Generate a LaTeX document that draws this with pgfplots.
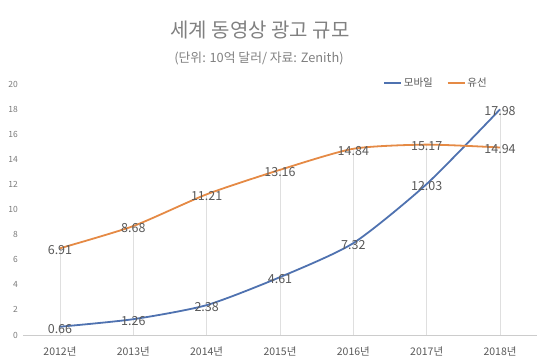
\documentclass[border=0pt]{standalone}
\usepackage{pgfplots}
\pgfplotsset{compat=1.18}
\usepackage{fontspec}
\setmainfont{Noto Sans CJK KR}
\definecolor{mblue}{HTML}{4F72B0}
\definecolor{morange}{HTML}{E58A45}
\definecolor{txt}{HTML}{595959}
\definecolor{ttl}{HTML}{808080}
\begin{document}
\begin{tikzpicture}[x=1pt,y=1pt]
\useasboundingbox (0,0) rectangle (550,361);
\node[font=\fontsize{20}{24}\selectfont, text=ttl] at (260,331) {세계 동영상 광고 규모};
\node[font=\fontsize{12.8}{15}\selectfont, text=ttl] at (259,303) {(단위: 10억 달러/ 자료: Zenith)};
\begin{axis}[
  at={(23.3pt,26pt)}, anchor=south west,
  scale only axis, width=513.4pt, height=251pt,
  xmin=-0.5, xmax=6.5, ymin=0, ymax=20,
  xtick={0,...,6},
  xticklabels={2012년,2013년,2014년,2015년,2016년,2017년,2018년},
  ytick={0,2,...,20},
  axis line style={draw=none},
  major tick length=0pt,
  /pgf/number format/assume math mode=true,
  yticklabel style={font=\fontsize{8.5}{10}\selectfont, text=txt!80, xshift=-2pt},
  xticklabel style={font=\fontsize{10.5}{12}\selectfont, text=txt, yshift=-8pt},
  extra y ticks={0}, extra y tick labels={},
  extra y tick style={grid=major, major grid style={gray!40, line width=0.8pt}},
  legend style={at={(412.7pt,252pt)}, anchor=center, draw=none, fill=none,
    legend columns=2, font=\fontsize{10.5}{12}\selectfont, text=txt,
    /tikz/every even column/.append style={column sep=12pt}},
  legend image code/.code={\draw[#1, line width=1.6pt] (0pt,0pt) -- (17pt,0pt);},
  clip=false,
]
\addplot[ycomb, draw=gray!25, line width=0.7pt, forget plot, mark=none]
  coordinates {(0,6.91)(1,8.68)(2,11.21)(3,13.16)(4,14.84)(5,15.17)(6,17.98)};
\addplot[mblue, line width=1.8pt, smooth, tension=0.4, mark=none,
  nodes near coords, point meta=y,
  every node near coord/.append style={anchor=center, yshift=-2pt, font=\fontsize{12.5}{14}\selectfont, text=txt,
    /pgf/number format/.cd, fixed, fixed zerofill, precision=2, assume math mode=true}]
  coordinates {(0,0.66)(1,1.26)(2,2.38)(3,4.61)(4,7.32)(5,12.03)(6,17.98)};
\addlegendentry{모바일}
\addplot[morange, line width=1.8pt, smooth, tension=0.4, mark=none,
  nodes near coords, point meta=y,
  every node near coord/.append style={anchor=center, yshift=-2pt, font=\fontsize{12.5}{14}\selectfont, text=txt,
    /pgf/number format/.cd, fixed, fixed zerofill, precision=2, assume math mode=true}]
  coordinates {(0,6.91)(1,8.68)(2,11.21)(3,13.16)(4,14.84)(5,15.17)(6,14.94)};
\addlegendentry{유선}
\end{axis}
\end{tikzpicture}
\end{document}
